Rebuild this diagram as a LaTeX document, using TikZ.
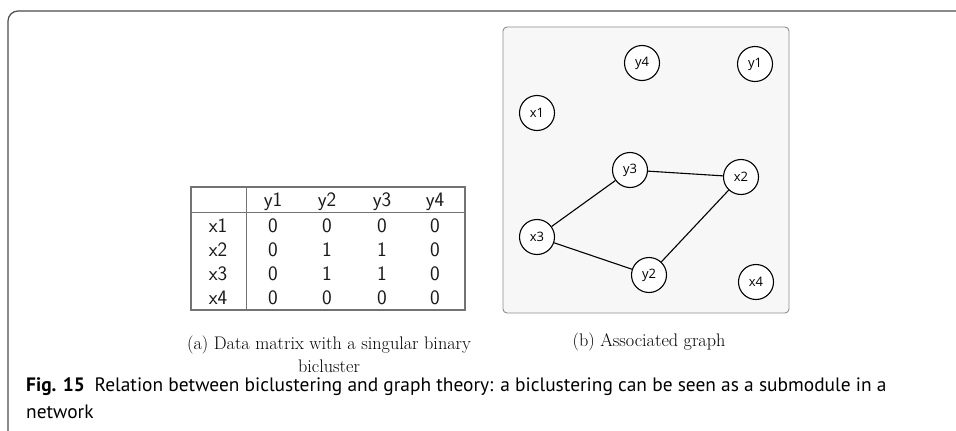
\documentclass[tikz,border=0pt]{standalone}
\usepackage{fontspec}
\newfontfamily\capfont{PT Sans}
\newfontfamily\vertexfont{Open Sans}

\begin{document}
\begin{tikzpicture}[x=1pt, y=-1pt,
    vertex/.style={circle, draw, line width=1.1pt, fill=white, minimum size=35pt,
        inner sep=0pt, font=\vertexfont\fontsize{13}{13}\selectfont},
    cell/.style={anchor=base, inner sep=0pt, text=black!90,
        font=\sffamily\fontsize{20.5}{20.5}\selectfont},
    rule/.style={draw=black!55, line width=1.2pt},
    subcap/.style={font=\fontsize{18.2}{23}\selectfont, align=center}]
    \useasboundingbox (0,0) rectangle (956,431);
    % Draw outer frame
    \draw[black!70, line width=1.2pt, rounded corners=10pt] (8,431) |- (956,11);

    % Draw data matrix
    \draw[rule] (191,187) rectangle (465,310);
    \draw[rule] (191,212.5) -- (465,212.5);
    \draw[rule] (246.5,187) -- (246.5,310);
    \foreach \cx/\name in {273/y1, 327/y2, 382/y3, 435/y4}
        \node[cell] (head-\name) at (\cx,206.5) {\name};
    \foreach \ry/\name/\a/\b/\c/\d in {232/x1/0/0/0/0, 256/x2/0/1/1/0,
            280/x3/0/1/1/0, 304/x4/0/0/0/0} {
        \node[cell] (row-\name) at (218,\ry) {\name};
        \node[cell] (\name-y1) at (273,\ry) {\a};
        \node[cell] (\name-y2) at (327,\ry) {\b};
        \node[cell] (\name-y3) at (382,\ry) {\c};
        \node[cell] (\name-y4) at (435,\ry) {\d};
    }
    \node[subcap] (cap-a) at (329,354) {(a) Data matrix with a singular binary\\bicluster};

    % Draw associated graph
    \draw[draw=black!45, fill=black!3, line width=0.9pt, rounded corners=4pt]
        (503,27) rectangle (789,313);
    \node[vertex] (y4) at (642,63) {y4};
    \node[vertex] (y1) at (755,64) {y1};
    \node[vertex] (x1) at (537,113) {x1};
    \node[vertex] (y3) at (630,170) {y3};
    \node[vertex] (x2) at (741,177) {x2};
    \node[vertex] (x3) at (537,237) {x3};
    \node[vertex] (y2) at (649,275) {y2};
    \node[vertex] (x4) at (756,282) {x4};
    \draw[line width=1.1pt] (y3) -- (x2) (y3) -- (x3) (x3) -- (y2) (y2) -- (x2);
    \node[subcap] (cap-b) at (649,342) {(b) Associated graph};

    % Figure caption
    \node[anchor=north west, inner sep=0pt, align=left,
        font=\capfont\fontsize{19.4}{27}\selectfont] (caption) at (26,377)
        {\textbf{Fig. 15}\hspace{0.5em}Relation between biclustering and graph theory: a biclustering can be seen as a submodule in a\\network};
\end{tikzpicture}
\end{document}
